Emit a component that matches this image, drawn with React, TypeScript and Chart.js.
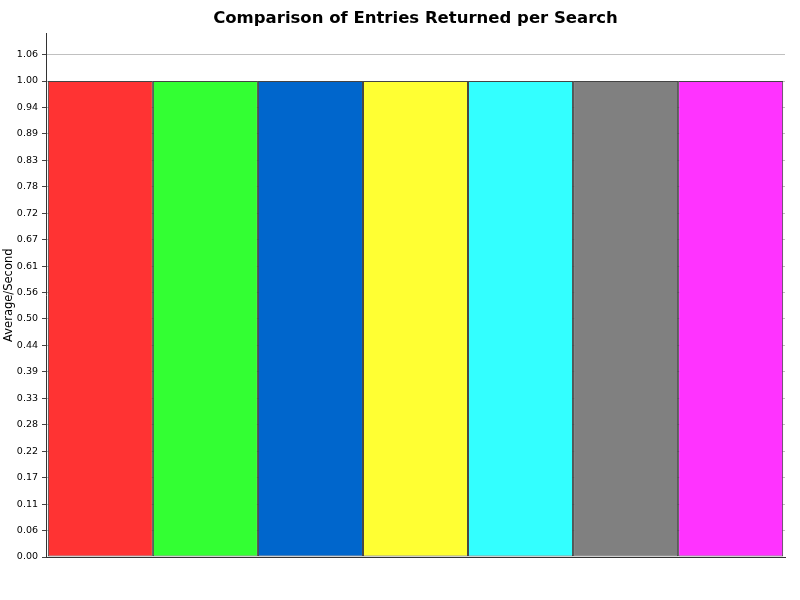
import React, { useRef, useEffect } from "react";
import { Chart, registerables, ChartConfiguration } from "chart.js";

Chart.register(...registerables);

const categories = [""];
const seriesNames = [
  "Series 1",
  "Series 2",
  "Series 3",
  "Series 4",
  "Series 5",
  "Series 6",
  "Series 7",
];
const seriesValues = [1.0, 1.0, 1.0, 1.0, 1.0, 1.0, 1.0];
const seriesColors = [
  "#FF3333",
  "#33FF33",
  "#0066CC",
  "#FFFF33",
  "#33FFFF",
  "#808080",
  "#FF33FF",
];
const yTickLabels = [
  "0.00", "0.06", "0.11", "0.17", "0.22", "0.28", "0.33", "0.39", "0.44", "0.50",
  "0.56", "0.61", "0.67", "0.72", "0.78", "0.83", "0.89", "0.94", "1.00", "1.06",
];
const yStep = 1 / 18;
const yMax = 1.1;

const FONT = "'DejaVu Sans', sans-serif";

const App = () => {
  const canvasRef = useRef<HTMLCanvasElement | null>(null);
  const chartRef = useRef<Chart | null>(null);

  useEffect(() => {
    document.body.style.margin = "0";
    if (!canvasRef.current) return;
    const ctx = canvasRef.current.getContext("2d");
    if (!ctx) return;
    if (chartRef.current) chartRef.current.destroy();

    const config: ChartConfiguration<"bar"> = {
      type: "bar",
      data: {
        labels: categories,
        datasets: seriesNames.map((name, i) => ({
          label: name,
          data: [seriesValues[i]],
          backgroundColor: seriesColors[i],
          borderColor: "#444444",
          borderWidth: 1,
          borderSkipped: false,
          categoryPercentage: 0.995,
          barPercentage: 1,
        })),
      },
      options: {
        responsive: false,
        animation: false,
        devicePixelRatio: 1,
        layout: { padding: { left: 0, right: 15, top: 0, bottom: 0 } },
        plugins: {
          legend: { display: false },
          tooltip: { enabled: false },
          title: {
            display: true,
            fullSize: false,
            text: "Comparison of Entries Returned per Search",
            color: "#000000",
            font: { family: FONT, size: 16.5, weight: "bold" },
            padding: { top: 9, bottom: 4.6 },
          },
        },
        scales: {
          x: {
            grid: { display: false },
            border: { display: true, color: "#333333" },
            ticks: { display: false },
            afterFit: (scale) => {
              scale.height = 43;
            },
          },
          y: {
            min: 0,
            max: yMax,
            grid: {
              color: "#c0c0c0",
              tickColor: "#444444",
              tickLength: 4,
            },
            border: { display: true, color: "#333333" },
            afterBuildTicks: (scale) => {
              scale.ticks = yTickLabels.map((_, i) => ({ value: i * yStep }));
            },
            ticks: {
              color: "#000000",
              padding: 4,
              font: { family: FONT, size: 9.5 },
              callback: (_v, index) => yTickLabels[index],
            },
            title: {
              display: true,
              text: "Average/Second",
              color: "#000000",
              font: { family: FONT, size: 11.5 },
              padding: { top: 2, bottom: 2 },
            },
            afterFit: (scale) => {
              scale.width = 46;
            },
          },
        },
      },
    };

    chartRef.current = new Chart(ctx, config);
    return () => {
      if (chartRef.current) {
        chartRef.current.destroy();
        chartRef.current = null;
      }
    };
  }, []);

  return <canvas ref={canvasRef} width="800" height="600"></canvas>;
};

export default App;
